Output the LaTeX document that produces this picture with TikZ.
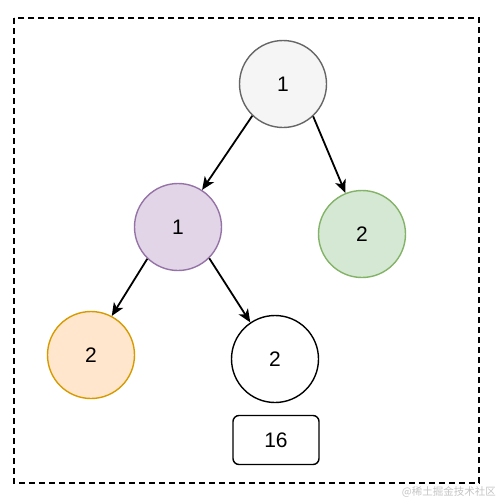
\documentclass[tikz,border=0pt]{standalone}
\usepackage{fontspec}
\setmainfont{Liberation Sans}
\newfontfamily\cjkfont{Noto Sans CJK SC}
\usetikzlibrary{arrows.meta}
\definecolor{rootfill}{HTML}{F5F5F5}
\definecolor{rootline}{HTML}{666666}
\definecolor{purfill}{HTML}{E1D5E7}
\definecolor{purline}{HTML}{9673A6}
\definecolor{grnfill}{HTML}{D5E8D4}
\definecolor{grnline}{HTML}{82B366}
\definecolor{orgfill}{HTML}{FFE6CC}
\definecolor{orgline}{HTML}{D79B00}
\definecolor{wmark}{HTML}{C4C4C4}
\tikzset{
  treenode/.style={circle, minimum size=87pt, inner sep=0pt, line width=1.4pt, font=\fontsize{21}{21}\selectfont},
  edge/.style={line width=1.8pt, -{Stealth[length=13pt,width=11pt,inset=3.5pt]}},
  frame/.style={line width=1.8pt, dash pattern=on 6pt off 4pt},
}
\begin{document}
\begin{tikzpicture}[x=1pt,y=-1pt]
\useasboundingbox (0,0) rectangle (498,501);
\draw[frame] (14,18) rectangle (479,483);
\node[treenode, draw=rootline, fill=rootfill] (root) at (283,84) {1};
\node[treenode, draw=purline, fill=purfill] (left) at (178,227) {1};
\node[treenode, draw=grnline, fill=grnfill] (right) at (362,234) {2};
\node[treenode, draw=orgline, fill=orgfill] (ll) at (91,355) {2};
\node[treenode, draw=black, fill=white] (lr) at (275,359) {2};
\node[draw, line width=1.4pt, rounded corners=6pt, minimum width=86pt, minimum height=49pt, inner sep=0pt, font=\fontsize{21}{21}\selectfont] (sum) at (276,440) {16};
\draw[edge] (root.226) -- (left.57);
\draw[edge] (root.313) -- (right.112);
\draw[edge] (left.226) -- (ll.62);
\draw[edge] (left.315) -- (lr.124);
\node[text=wmark, font=\cjkfont\fontsize{10.5}{10.5}\selectfont, anchor=east, inner sep=0pt] (wm) at (496,492) {@稀土掘金技术社区};
\end{tikzpicture}
\end{document}
